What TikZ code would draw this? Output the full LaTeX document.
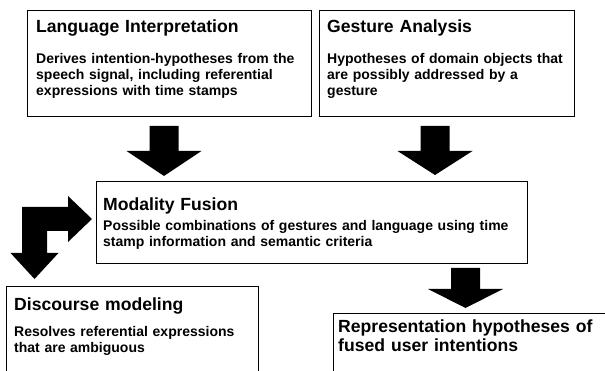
\documentclass[tikz,border=0pt]{standalone}
\usepackage{fontspec}
\setmainfont{Liberation Sans}
\usepackage{tikz}
\usetikzlibrary{calc}

% filled block arrow pointing down: start, tip, head length
\newcommand{\blockdown}[3]{%
  \fill let \p1=#1, \p2=#2 in
    (\x1-14.5,\y1) -- (\x1+14.5,\y1) -- (\x1+14.5,\y2+#3) -- (\x1+37.5,\y2+#3)
    -- (\x1,\y2) -- (\x1-37.5,\y2+#3) -- (\x1-14.5,\y2+#3) -- cycle;}

\begin{document}
\begin{tikzpicture}[x=1pt,y=1pt,
  box/.style={draw=black,line width=0.9pt,anchor=north west,inner sep=0pt},
  heading/.style={anchor=base west,inner sep=0pt,align=left,text width=440pt,
    font=\bfseries\fontsize{17.6}{20}\selectfont},
  body/.style={anchor=base west,inner sep=0pt,align=left,text width=440pt,
    font=\bfseries\fontsize{14}{16}\selectfont}]

\useasboundingbox (0,0) rectangle (605,-371);
\clip (0,0) rectangle (605,-371);

% Boxes
\node[box,minimum width=284pt,minimum height=106pt] (lang) at (27,-10) {};
\node[box,minimum width=255pt,minimum height=106pt] (gest) at (319,-10) {};
\node[box,minimum width=431pt,minimum height=82pt] (fus) at (96,-181) {};
\node[box,minimum width=252pt,minimum height=120pt] (disc) at (6,-286) {};
\node[box,minimum width=290pt,minimum height=100pt] (repr) at (333,-313) {};

% Texts
\node[heading] (langtitle) at (36,-33) {Language Interpretation};
\node[body] (langtext) at (36,-64) {Derives intention-hypotheses from the\\
  speech signal, including referential\\expressions with time stamps};

\node[heading] (gesttitle) at (327,-33) {Gesture Analysis};
\node[body] (gesttext) at (327,-64) {Hypotheses of domain objects that\\
  are possibly addressed by a\\gesture};

\node[heading] (fustitle) at (103,-211) {Modality Fusion};
\node[body] (fustext) at (103,-231) {Possible combinations of gestures and language using time\\
  stamp information and semantic criteria};

\node[heading] (disctitle) at (14,-310) {Discourse modeling};
\node[body] (disctext) at (14,-337) {Resolves referential expressions\\that are ambiguous};

\node[heading] (reprtitle) at (338,-332) {Representation hypotheses of\\fused user intentions};

% Block arrows
\blockdown{(164,-126)}{(164,-176)}{25}
\blockdown{(435,-126)}{(435,-175)}{24}
\blockdown{(465.5,-268)}{(465.5,-308)}{19}

% Bent arrow to discourse modeling
\fill (22,-207) -- (68,-207) -- (68,-196) -- (92,-219) -- (68,-242) -- (68,-231)
  -- (47,-231) -- (47,-253) -- (58.5,-253) -- (34.5,-279) -- (10.5,-253)
  -- (22,-253) -- cycle;

\end{tikzpicture}
\end{document}
